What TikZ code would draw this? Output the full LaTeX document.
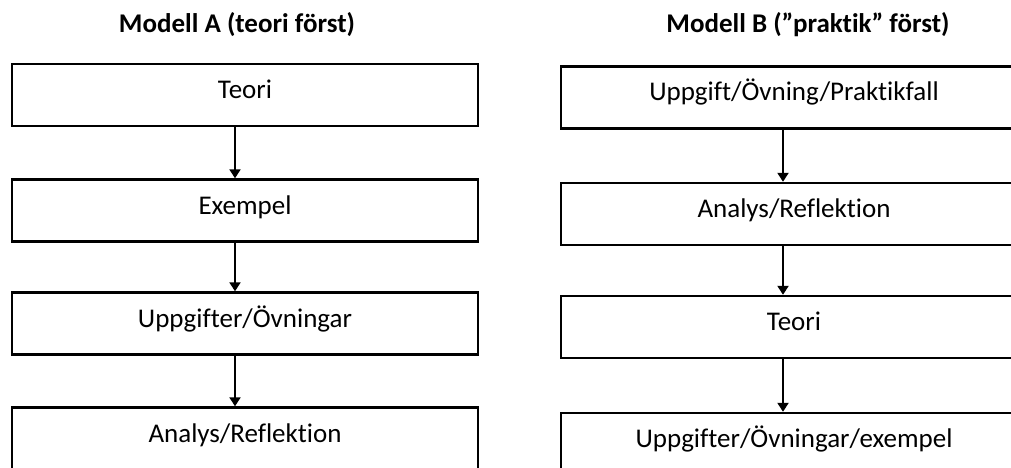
\documentclass[tikz,border=0pt]{standalone}
\usepackage{fontspec}
\setmainfont{Carlito}[Ligatures=NoCommon]
\usetikzlibrary{arrows.meta}
\begin{document}
\begin{tikzpicture}[x=1pt,y=-1pt,
  stage/.style={draw=black, line width=2.4pt, rectangle, minimum width=466pt,
    minimum height=62pt, inner sep=0pt, text height=17pt, text depth=10pt,
    font=\fontsize{27}{32}\selectfont},
  heading/.style={font=\fontsize{27}{32}\selectfont\bfseries, anchor=base},
  flow/.style={line width=2pt, -{Triangle[width=11pt,length=9pt]}}]
  \useasboundingbox (0,0) rectangle (1011,468);
  \clip (0,0) rectangle (1011,468);
  \fill[white] (0,0) rectangle (1011,468);

  % Modell A
  \node[heading] (ta) at (237,33) {Modell A (teori först)};
  \node[stage] (a1) at (245,95)  {Teori};
  \node[stage] (a2) at (245,210.5) {Exempel};
  \node[stage] (a3) at (245,323.5) {Uppgifter/Övningar};
  \node[stage] (a4) at (245,438.5) {Analys/Reflektion};
  \foreach \u/\v in {a1/a2,a2/a3,a3/a4}
    \draw[flow] ([xshift=-10pt]\u.south) -- ([xshift=-10pt]\v.north);

  % Modell B
  \node[heading] (tb) at (808,33) {Modell B (”praktik” först)};
  \node[stage] (b1) at (794,97.5)  {Uppgift/Övning/Praktikfall};
  \node[stage] (b2) at (794,214) {Analys/Reflektion};
  \node[stage] (b3) at (794,327) {Teori};
  \node[stage] (b4) at (794,444) {Uppgifter/Övningar/exempel};
  \foreach \u/\v in {b1/b2,b2/b3,b3/b4}
    \draw[flow] ([xshift=-11pt]\u.south) -- ([xshift=-11pt]\v.north);
\end{tikzpicture}
\end{document}
